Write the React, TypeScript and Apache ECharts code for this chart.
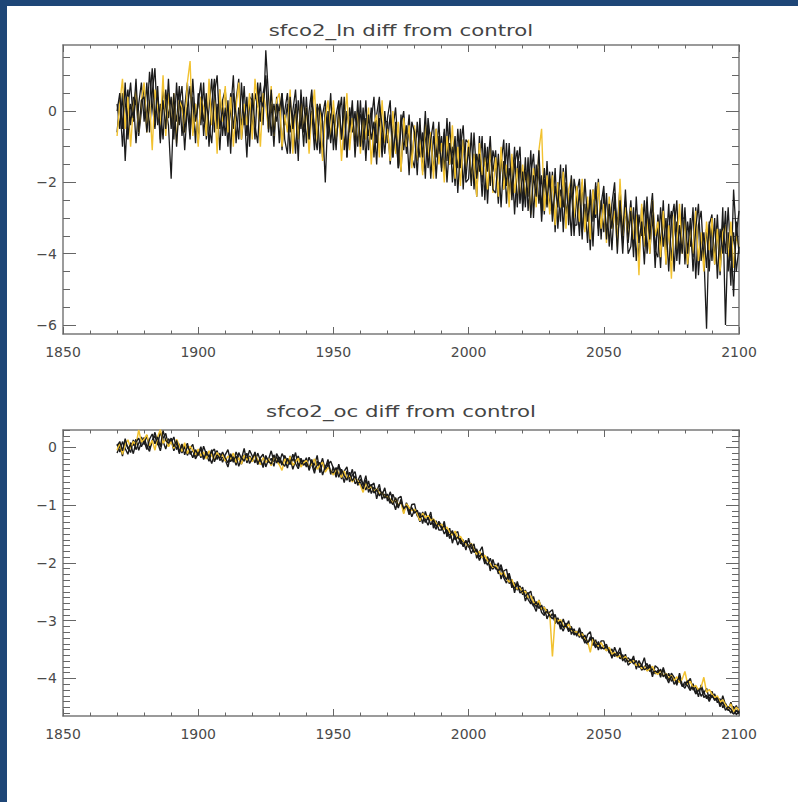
import React, { useEffect, useRef } from 'react';
import * as echarts from 'echarts';

const START_YEAR = 1870;
const TITLE_LN = 'sfco2_ln diff from control';
const TITLE_OC = 'sfco2_oc diff from control';

const X_MIN = 1850;
const X_MAX = 2100;
const X_STEP = 50;

const LN_MIN = -6.25;
const LN_MAX = 1.85;
const LN_MAJOR = [-6, -4, -2, 0];
const LN_MINOR = [-6, -5.5, -5, -4.5, -4, -3.5, -3, -2.5, -2, -1.5, -1, -0.5, 0, 0.5, 1, 1.5];

const OC_MIN = -4.65;
const OC_MAX = 0.3;
const OC_MAJOR = [-4, -3, -2, -1, 0];

// sfco2_ln, annual 1870..2100
const lnBlack1 = [
  0.2, -0.5, 0.5, -1.4, 0.1, 0.8, -0.3, 0.4, -0.7, 0.0,
  0.7, -0.3, 1.1, 0.2, -0.5, 0.4, -0.9, 0.6, 0.1, -0.4,
  -1.9, 0.2, -0.3, 0.7, -0.7, 0.1, 0.8, -0.5, 0.4, -0.9,
  0.5, -0.4, 0.8, -0.8, 0.1, 0.9, -0.6, 0.2, -1.1, 0.3,
  0.6, -0.6, 0.0, 1.0, -0.9, 0.1, -0.4, 0.7, -0.7, 0.3,
  -0.5, 0.5, 0.1, 0.8, -0.4, 1.7, 0.4, -0.7, 0.2, -0.3,
  0.2, -1.1, 0.0, 0.5, -0.6, -0.1, -1.2, 0.3, -0.5, 0.4,
  -0.9, 0.0, 0.6, -0.6, 0.1, -1.2, -0.1, 0.3, -0.8, -0.1,
  0.1, -0.8, -0.2, 0.4, -1.1, 0.0, -0.6, 0.3, -1.3, -0.1,
  -0.1, -0.8, 0.3, -1.1, -0.3, 0.4, -0.9, -0.2, -1.3, 0.0,
  -0.9, -0.1, -1.3, -0.3, -1.6, -0.4, 0.0, -1.2, -0.5, -1.4,
  -0.5, -1.4, -0.2, -1.7, -0.8, -0.4, -1.9, -0.7, -1.3, -0.3,
  -1.7, -0.6, -1.4, -0.3, -2.0, -0.9, -1.6, -0.5, -2.2, -0.8,
  -0.9, -1.8, -1.3, -2.4, -0.7, -2.0, -1.1, -2.6, -1.2, -1.7,
  -1.1, -2.4, -1.5, -0.8, -2.6, -1.6, -2.2, -1.0, -2.7, -1.4,
  -2.6, -1.3, -2.8, -1.8, -1.2, -2.5, -1.6, -3.1, -1.9, -2.7,
  -1.9, -2.9, -1.6, -3.3, -2.2, -2.7, -1.5, -3.2, -2.1, -3.5,
  -2.3, -1.9, -3.4, -2.6, -3.7, -2.2, -3.1, -2.0, -3.5, -2.5,
  -3.4, -2.3, -3.8, -2.6, -2.0, -3.6, -2.8, -4.0, -2.5, -3.3,
  -2.5, -3.8, -3.0, -4.2, -2.7, -3.5, -2.4, -4.0, -2.9, -4.4,
  -2.9, -3.8, -2.5, -4.3, -3.3, -2.8, -4.5, -3.1, -4.0, -2.6,
  -4.3, -3.1, -3.8, -2.7, -4.7, -3.2, -2.8, -4.2, -3.3, -4.5,
  -3.1, -4.2, -2.9, -4.4, -2.7, -6.0, -3.4, -4.9, -2.2, -3.5,
  -2.8,
];

const lnBlack2 = [
  -0.6, 0.3, -1.0, 0.1, 0.6, -0.4, 0.4, -0.9, 0.2, 0.8,
  -0.3, 0.8, -0.6, 0.5, 1.2, -0.4, 0.2, -0.8, 0.6, -0.2,
  0.4, -0.8, 0.8, -0.4, 0.3, -1.1, 0.1, 0.7, -0.6, 0.2,
  -0.9, 0.4, -0.3, 0.5, -1.0, 0.2, 0.9, -0.5, 0.6, -0.7,
  0.1, -1.0, 0.5, -0.5, 0.3, 0.9, -0.8, 0.0, -1.3, 0.4,
  0.3, -0.8, 0.8, -0.3, 0.5, 0.9, -0.6, 0.2, -1.0, 0.4,
  -0.9, 0.5, -0.4, 0.2, -1.2, 0.0, 0.6, -0.7, 0.1, -1.0,
  0.4, -0.8, 0.0, -1.1, 0.2, -0.1, -1.3, 0.1, -0.6, 0.5,
  -1.1, -0.1, 0.3, -0.8, 0.0, -1.3, 0.1, -0.6, 0.0, -1.0,
  0.3, -1.1, -0.2, -0.7, 0.1, -1.3, -0.1, 0.4, -1.0, -0.3,
  -0.3, -1.5, -0.5, 0.1, -1.1, -1.7, -0.2, -1.0, -0.1, -1.3,
  -1.6, -0.3, -1.3, -0.6, -1.9, -0.2, -0.9, -1.7, -0.5, -1.2,
  -0.7, -1.7, -0.2, -1.5, -1.0, -2.1, -0.5, -1.6, -0.8, -2.0,
  -1.9, -0.6, -2.2, -1.2, -1.7, -0.7, -2.5, -1.0, -2.1, -1.1,
  -1.5, -2.6, -1.2, -2.2, -0.9, -2.4, -1.3, -2.9, -1.6, -1.0,
  -2.8, -1.7, -2.4, -1.1, -3.0, -1.5, -2.6, -1.8, -2.9, -1.4,
  -2.8, -1.7, -3.4, -2.0, -3.1, -1.6, -2.9, -2.3, -3.5, -1.9,
  -2.4, -3.5, -2.0, -3.3, -2.5, -3.9, -2.2, -3.0, -1.9, -3.6,
  -2.3, -3.4, -2.7, -3.9, -2.5, -3.2, -2.1, -3.7, -2.6, -4.0,
  -3.8, -2.7, -4.2, -2.9, -3.5, -2.5, -4.0, -3.0, -2.3, -3.9,
  -3.2, -4.4, -2.8, -3.9, -2.6, -4.2, -3.3, -2.5, -4.3, -3.0,
  -3.0, -4.4, -3.4, -4.1, -2.7, -4.6, -3.5, -4.0, -6.1, -3.2,
  -2.9, -4.3, -3.3, -4.6, -3.1, -4.0, -2.7, -4.2, -3.4, -4.5,
  -3.8,
];

const lnBlack3 = [
  0.0, 0.5, -0.5, 0.8, -0.8, 0.2, -0.2, 0.9, -0.6, 0.3,
  0.4, -0.6, 0.2, 1.2, -0.3, 0.7, -0.8, 0.3, -0.5, 0.9,
  -0.5, 0.5, -1.0, 0.2, 0.7, -0.6, 0.1, -0.8, 0.9, -0.3,
  0.2, 0.8, -0.7, 0.3, -0.4, -0.9, 0.5, 1.0, -0.5, 0.1,
  -0.7, 0.3, -1.2, 0.5, -0.1, -0.8, 0.8, -0.4, 0.4, -1.0,
  0.5, -0.4, -0.9, 0.4, 0.1, 1.0, -0.5, 0.6, -0.7, 0.2,
  0.0, 0.5, -0.8, -1.2, 0.4, -0.5, 0.2, -1.4, 0.6, -0.6,
  0.1, -0.8, 0.4, -0.6, -1.1, 0.2, -0.3, -2.0, 0.0, -0.9,
  -0.1, -1.1, 0.2, -0.8, 0.4, -1.3, -0.3, 0.1, -1.0, 0.3,
  -1.0, 0.1, -1.4, -0.1, -0.8, -0.3, -1.5, 0.2, -0.4, -1.2,
  -0.2, 0.3, -1.3, -0.5, -1.6, -0.1, -1.1, -0.4, -1.8, -0.3,
  -0.6, -1.8, -0.4, -1.3, 0.0, -1.6, -0.8, -0.3, -1.9, -0.7,
  -1.6, -0.5, -2.0, -0.9, -1.5, -0.7, -2.3, -1.0, -0.4, -1.9,
  -1.0, -2.1, -0.6, -1.9, -1.2, -2.4, -0.9, -1.7, -0.7, -2.2,
  -2.3, -1.2, -2.7, -1.4, -2.1, -0.9, -2.5, -1.5, -1.1, -2.6,
  -1.7, -2.7, -1.3, -3.0, -1.8, -2.4, -1.1, -2.8, -1.6, -2.5,
  -1.7, -3.1, -2.1, -2.7, -1.5, -3.4, -2.0, -2.9, -1.8, -3.2,
  -3.2, -2.2, -3.6, -1.9, -3.1, -2.4, -3.8, -2.1, -3.3, -2.6,
  -2.1, -3.6, -2.6, -3.3, -2.3, -4.0, -2.5, -3.5, -2.2, -3.7,
  -2.8, -4.1, -2.4, -3.7, -3.1, -4.3, -2.7, -3.6, -2.5, -3.9,
  -4.1, -2.7, -3.8, -3.0, -4.5, -3.1, -2.6, -4.2, -3.2, -4.0,
  -2.7, -4.0, -3.0, -4.5, -3.3, -2.6, -4.2, -3.4, -4.4, -3.1,
  -4.2, -3.0, -4.7, -3.3, -4.0, -2.8, -4.5, -3.5, -5.2, -3.1,
  -4.0,
];

const lnYellow = [
  -0.7, 0.2, 0.9, -0.5, 0.4, -1.0, 0.1, 0.6, -0.6, 0.3,
  0.8, -0.6, 0.3, -1.1, 0.6, 0.1, -0.4, 1.0, -0.7, 0.5,
  -0.4, 0.5, -0.9, 0.3, 0.1, -0.6, 0.8, 1.4, -0.7, 0.2,
  -1.0, 0.4, 0.1, -0.7, 0.9, -0.4, 0.3, -1.2, 0.6, -0.3,
  0.7, -0.6, 0.4, -1.0, 0.1, 0.8, -0.8, 0.2, -0.4, 0.5,
  -0.8, 0.9, 0.2, -1.0, 0.5, 0.1, -0.5, 0.7, -0.7, 0.3,
  0.5, -1.0, -0.1, -0.6, 0.6, -1.2, 0.1, -0.8, 0.3, -0.5,
  0.1, -1.2, -0.1, 0.6, -0.9, 0.2, -1.4, -0.2, 0.3, -0.8,
  0.3, -0.8, 0.0, -1.4, -0.3, 0.5, -1.1, -0.2, -0.9, 0.1,
  -1.2, -0.2, -0.8, 0.1, -1.5, -0.4, -0.1, -1.3, 0.3, -0.9,
  -0.5, -1.4, 0.0, -1.2, -0.3, -1.7, -0.2, -1.0, -0.4, -1.6,
  -0.4, -1.4, -0.8, -1.8, -0.3, -1.3, -0.6, -1.9, -0.5, -1.5,
  -0.9, -2.0, -0.7, -1.5, -0.4, -1.9, -1.0, -2.1, -0.8, -1.6,
  -0.8, -2.0, -1.2, -2.4, -0.9, -1.8, -1.3, -2.2, -1.0, -2.3,
  -1.3, -2.4, -1.0, -2.2, -1.5, -2.7, -1.2, -2.3, -1.6, -2.5,
  -1.5, -2.4, -1.7, -2.9, -1.6, -2.7, -1.1, -0.5, -2.8, -1.8,
  -2.9, -1.8, -3.2, -2.0, -2.7, -1.7, -3.3, -2.2, -1.9, -3.0,
  -2.1, -3.1, -1.9, -3.4, -2.4, -3.6, -2.2, -2.9, -2.0, -3.3,
  -2.6, -3.7, -2.4, -3.3, -2.8, -3.8, -1.9, -3.5, -2.7, -3.6,
  -2.7, -3.6, -2.9, -4.6, -2.6, -3.8, -3.0, -4.0, -2.5, -3.5,
  -3.1, -4.1, -2.8, -4.3, -3.2, -4.7, -2.9, -3.9, -2.6, -4.0,
  -3.0, -4.3, -3.3, -4.0, -2.8, -4.2, -3.4, -4.5, -3.1, -3.9,
  -3.0, -4.3, -3.3, -4.5, -3.4, -3.2, -4.1, -3.1, -4.4, -3.5,
  -3.8,
];

// sfco2_oc, annual 1870..2100
const ocBlack1 = [
  0.06, -0.08, 0.10, -0.02, -0.12, 0.08, 0.03, 0.14, -0.05, 0.09,
  0.17, 0.02, -0.07, 0.12, 0.20, 0.04, 0.27, 0.10, -0.03, 0.15,
  0.08, 0.18, -0.04, 0.06, -0.10, 0.03, -0.14, -0.02, 0.05, -0.16,
  -0.05, -0.18, 0.02, -0.12, -0.24, -0.08, -0.03, -0.21, -0.10, -0.26,
  -0.13, -0.04, -0.25, -0.16, -0.31, -0.09, -0.20, -0.02, -0.27, -0.15,
  -0.22, -0.08, -0.30, -0.18, -0.12, -0.34, -0.21, -0.06, -0.25, -0.16,
  -0.28, -0.11, -0.20, -0.36, -0.15, -0.24, -0.09, -0.33, -0.19, -0.29,
  -0.18, -0.40, -0.25, -0.31, -0.14, -0.44, -0.27, -0.36, -0.21, -0.47,
  -0.34, -0.52, -0.32, -0.43, -0.61, -0.41, -0.54, -0.38, -0.63, -0.58,
  -0.48, -0.66, -0.49, -0.78, -0.66, -0.62, -0.89, -0.71, -0.83, -0.70,
  -0.93, -0.77, -0.92, -1.08, -0.88, -0.85, -1.10, -0.99, -1.17, -0.99,
  -0.98, -1.19, -1.13, -1.32, -1.11, -1.26, -1.12, -1.40, -1.27, -1.43,
  -1.43, -1.28, -1.55, -1.40, -1.66, -1.49, -1.46, -1.67, -1.60, -1.78,
  -1.57, -1.76, -1.67, -1.92, -1.81, -1.72, -1.99, -1.89, -2.14, -1.94,
  -2.11, -2.00, -2.28, -2.14, -2.11, -2.36, -2.29, -2.52, -2.32, -2.48,
  -2.42, -2.66, -2.54, -2.49, -2.73, -2.84, -2.64, -2.81, -2.76, -2.97,
  -2.85, -2.81, -3.05, -2.97, -3.15, -2.97, -3.12, -3.00, -3.24, -3.14,
  -3.27, -3.12, -3.27, -3.39, -3.24, -3.19, -3.43, -3.33, -3.51, -3.35,
  -3.35, -3.52, -3.47, -3.65, -3.46, -3.58, -3.47, -3.70, -3.58, -3.77,
  -3.72, -3.61, -3.84, -3.69, -3.78, -3.64, -3.87, -3.79, -3.97, -3.78,
  -3.82, -3.98, -3.81, -3.97, -4.08, -3.91, -3.98, -4.12, -3.91, -4.11,
  -4.17, -4.06, -4.00, -4.20, -4.14, -4.32, -4.11, -4.25, -4.17, -4.37,
  -4.22, -4.37, -4.32, -4.49, -4.30, -4.46, -4.56, -4.41, -4.58, -4.47,
  -4.60,
];

const ocBlack2 = [
  -0.10, 0.04, -0.15, 0.08, 0.00, -0.09, 0.13, -0.04, 0.07, 0.18,
  0.05, 0.21, -0.02, 0.10, 0.26, 0.08, -0.06, 0.16, 0.24, 0.02,
  0.13, -0.06, 0.09, -0.11, 0.04, -0.03, 0.07, -0.12, -0.05, -0.20,
  -0.11, 0.01, -0.19, -0.07, -0.15, -0.28, -0.12, -0.06, -0.23, -0.17,
  -0.22, -0.34, -0.14, -0.26, -0.08, -0.19, -0.29, -0.13, -0.21, -0.05,
  -0.15, -0.27, -0.10, -0.23, -0.32, -0.14, -0.26, -0.19, -0.33, -0.11,
  -0.20, -0.31, -0.14, -0.26, -0.18, -0.38, -0.23, -0.15, -0.30, -0.22,
  -0.34, -0.17, -0.29, -0.45, -0.24, -0.33, -0.19, -0.41, -0.30, -0.24,
  -0.36, -0.47, -0.29, -0.55, -0.41, -0.34, -0.60, -0.48, -0.42, -0.66,
  -0.55, -0.63, -0.74, -0.58, -0.80, -0.69, -0.76, -0.64, -0.90, -0.81,
  -0.86, -0.97, -0.81, -0.94, -1.05, -0.90, -1.13, -0.96, -1.06, -1.20,
  -1.08, -1.15, -1.29, -1.12, -1.24, -1.35, -1.19, -1.33, -1.42, -1.28,
  -1.36, -1.50, -1.42, -1.58, -1.47, -1.53, -1.69, -1.57, -1.72, -1.64,
  -1.70, -1.84, -1.73, -1.81, -1.96, -1.85, -2.02, -1.90, -2.06, -2.11,
  -2.02, -2.19, -2.08, -2.26, -2.35, -2.21, -2.43, -2.34, -2.47, -2.40,
  -2.55, -2.47, -2.63, -2.71, -2.58, -2.77, -2.69, -2.86, -2.91, -2.80,
  -2.94, -2.88, -3.03, -2.95, -3.09, -3.18, -3.04, -3.16, -3.10, -3.25,
  -3.18, -3.29, -3.20, -3.34, -3.41, -3.28, -3.38, -3.47, -3.36, -3.49,
  -3.44, -3.41, -3.56, -3.49, -3.62, -3.55, -3.66, -3.59, -3.72, -3.64,
  -3.70, -3.66, -3.79, -3.73, -3.86, -3.80, -3.74, -3.88, -3.83, -3.92,
  -3.86, -3.93, -3.85, -4.00, -3.91, -4.05, -3.99, -4.09, -4.02, -4.14,
  -4.06, -4.13, -4.21, -4.09, -4.25, -4.18, -4.31, -4.23, -4.35, -4.28,
  -4.33, -4.27, -4.42, -4.35, -4.51, -4.43, -4.52, -4.60, -4.48, -4.63,
  -4.57,
];

const ocBlack3 = [
  0.02, 0.10, -0.06, 0.15, -0.03, 0.05, -0.11, 0.09, 0.16, 0.01,
  0.11, -0.04, 0.14, 0.23, 0.06, 0.18, 0.01, 0.29, 0.12, 0.07,
  0.16, 0.01, 0.12, -0.08, 0.06, -0.13, 0.02, -0.07, -0.18, -0.04,
  -0.14, -0.02, -0.21, -0.09, -0.17, -0.04, -0.25, -0.13, -0.19, -0.08,
  -0.18, -0.27, -0.11, -0.23, -0.15, -0.33, -0.18, -0.24, -0.10, -0.28,
  -0.19, -0.11, -0.28, -0.20, -0.35, -0.16, -0.24, -0.29, -0.13, -0.27,
  -0.17, -0.27, -0.33, -0.19, -0.30, -0.12, -0.28, -0.37, -0.22, -0.31,
  -0.26, -0.36, -0.21, -0.39, -0.31, -0.26, -0.48, -0.33, -0.27, -0.42,
  -0.44, -0.35, -0.52, -0.38, -0.49, -0.57, -0.43, -0.58, -0.50, -0.62,
  -0.60, -0.72, -0.57, -0.70, -0.64, -0.79, -0.73, -0.84, -0.77, -0.88,
  -0.81, -0.92, -0.99, -0.87, -1.02, -0.94, -1.06, -1.01, -1.12, -1.04,
  -1.14, -1.09, -1.22, -1.18, -1.30, -1.21, -1.34, -1.25, -1.37, -1.31,
  -1.41, -1.35, -1.49, -1.52, -1.44, -1.60, -1.55, -1.63, -1.70, -1.61,
  -1.73, -1.67, -1.82, -1.76, -1.90, -1.83, -1.95, -2.04, -1.92, -2.06,
  -2.08, -2.14, -2.03, -2.21, -2.29, -2.18, -2.37, -2.44, -2.36, -2.52,
  -2.48, -2.58, -2.51, -2.66, -2.75, -2.67, -2.79, -2.73, -2.88, -2.84,
  -2.91, -2.97, -2.89, -3.06, -3.01, -3.12, -3.07, -3.19, -3.13, -3.21,
  -3.24, -3.17, -3.31, -3.25, -3.38, -3.33, -3.29, -3.44, -3.39, -3.46,
  -3.49, -3.44, -3.53, -3.63, -3.57, -3.61, -3.54, -3.68, -3.65, -3.71,
  -3.67, -3.75, -3.69, -3.81, -3.77, -3.85, -3.82, -3.76, -3.91, -3.87,
  -3.90, -3.84, -3.97, -3.92, -4.03, -3.96, -4.10, -4.04, -3.98, -4.13,
  -4.11, -4.04, -4.18, -4.15, -4.27, -4.21, -4.16, -4.33, -4.29, -4.40,
  -4.29, -4.38, -4.34, -4.45, -4.41, -4.55, -4.49, -4.53, -4.62, -4.55,
  -4.61,
];

const ocYellow = [
  -0.05, 0.08, -0.12, 0.05, 0.13, -0.02, 0.10, 0.04, 0.30, 0.09,
  0.14, 0.22, 0.03, 0.12, -0.05, 0.18, 0.31, 0.07, 0.15, 0.01,
  0.10, -0.02, 0.14, 0.03, -0.07, 0.08, -0.11, 0.02, -0.05, -0.13,
  -0.03, -0.15, -0.08, -0.20, -0.06, -0.14, -0.22, -0.09, -0.17, -0.12,
  -0.24, -0.15, -0.20, -0.10, -0.26, -0.18, -0.29, -0.14, -0.22, -0.17,
  -0.25, -0.13, -0.21, -0.30, -0.18, -0.26, -0.20, -0.32, -0.15, -0.24,
  -0.30, -0.40, -0.20, -0.28, -0.16, -0.31, -0.25, -0.19, -0.34, -0.27,
  -0.23, -0.35, -0.29, -0.20, -0.38, -0.31, -0.26, -0.43, -0.35, -0.40,
  -0.48, -0.37, -0.45, -0.52, -0.41, -0.55, -0.47, -0.60, -0.52, -0.58,
  -0.66, -0.78, -0.62, -0.71, -0.68, -0.77, -0.72, -0.81, -0.78, -0.86,
  -0.84, -0.90, -0.97, -0.88, -1.00, -0.95, -1.15, -0.98, -1.04, -1.10,
  -1.07, -1.15, -1.27, -1.14, -1.22, -1.18, -1.27, -1.24, -1.31, -1.36,
  -1.33, -1.42, -1.38, -1.47, -1.52, -1.45, -1.58, -1.54, -1.62, -1.67,
  -1.72, -1.66, -1.78, -1.85, -1.80, -1.91, -1.87, -1.96, -2.01, -2.08,
  -2.04, -2.12, -2.20, -2.16, -2.27, -2.33, -2.29, -2.40, -2.45, -2.43,
  -2.52, -2.49, -2.60, -2.57, -2.68, -2.72, -2.65, -2.80, -2.77, -2.86,
  -2.88, -3.62, -2.95, -3.01, -2.98, -3.08, -3.12, -3.06, -3.16, -3.20,
  -3.19, -3.26, -3.23, -3.30, -3.35, -3.55, -3.31, -3.40, -3.44, -3.38,
  -3.47, -3.52, -3.46, -3.58, -3.55, -3.63, -3.60, -3.67, -3.62, -3.70,
  -3.72, -3.69, -3.78, -3.75, -3.83, -3.80, -3.87, -3.84, -3.79, -3.90,
  -3.93, -3.86, -3.96, -3.91, -4.00, -3.95, -4.04, -3.97, -4.07, -4.01,
  -3.88, -4.10, -4.05, -4.16, -4.12, -4.20, -4.15, -3.98, -4.24, -4.19,
  -4.27, -4.33, -4.30, -4.41, -4.37, -4.46, -4.52, -4.44, -4.58, -4.50,
  -4.55,
];

const BLUE = '#1e4677';
const BLACK = '#1b1b1b';
const YELLOW = '#f2c230';
const AXIS_COLOR = '#7a7a7a';
const TEXT_COLOR = '#4a4a4a';
const FONT = 'DejaVu Sans';

const fmtX = (v: number) => String(v);
const fmtY = (v: number) => (v === 0 ? '0' : v < 0 ? '\u2212' + String(Math.abs(v)) : String(v));

function xAxes(gridIndex: number) {
  const base = {
    type: 'value',
    gridIndex,
    min: X_MIN,
    max: X_MAX,
    interval: X_STEP,
    splitLine: { show: false },
    axisLine: { show: true, onZero: false, lineStyle: { color: AXIS_COLOR, width: 1.5 } },
    axisTick: { show: true, inside: true, length: 7, lineStyle: { color: '#666', width: 1 } },
    minorTick: { show: true, splitNumber: 5, length: 3.5, lineStyle: { color: '#666', width: 1 } },
  };
  return [
    {
      ...base,
      position: 'bottom',
      axisLabel: {
        show: true,
        formatter: fmtX,
        margin: 11,
        fontSize: 14,
        fontFamily: FONT,
        color: TEXT_COLOR,
        showMinLabel: true,
        showMaxLabel: true,
      },
    },
    { ...base, position: 'top', axisLabel: { show: false } },
  ];
}

function yAxes(gridIndex: number, min: number, max: number, major: number[], minor: number[]) {
  const base = {
    type: 'value',
    gridIndex,
    min,
    max,
    splitLine: { show: false },
    minorTick: { show: false },
  };
  const line = { show: true, onZero: false, lineStyle: { color: AXIS_COLOR, width: 1.5 } };
  const noLine = { show: false, onZero: false };
  const majorTick = { show: true, inside: true, length: 13, customValues: major, lineStyle: { color: '#666', width: 1 } };
  const minorTick = { show: true, inside: true, length: 7, customValues: minor, lineStyle: { color: '#666', width: 1 } };
  return [
    {
      ...base,
      position: 'left',
      axisLine: line,
      axisTick: majorTick,
      axisLabel: {
        show: true,
        customValues: major,
        formatter: fmtY,
        margin: 6,
        fontSize: 14,
        fontFamily: FONT,
        color: TEXT_COLOR,
      },
    },
    { ...base, position: 'left', axisLine: noLine, axisTick: minorTick, axisLabel: { show: false } },
    { ...base, position: 'right', axisLine: line, axisTick: majorTick, axisLabel: { show: false } },
    { ...base, position: 'right', axisLine: noLine, axisTick: minorTick, axisLabel: { show: false } },
  ];
}

function lineSeries(name: string, values: number[], color: string, xAxisIndex: number, yAxisIndex: number, width: number, z: number) {
  return {
    name,
    type: 'line',
    xAxisIndex,
    yAxisIndex,
    data: values.map((v, i) => [START_YEAR + i, v]),
    showSymbol: false,
    symbol: 'none',
    lineStyle: { color, width },
    z,
  };
}

export default function App() {
  const ref = useRef<HTMLDivElement>(null);

  useEffect(() => {
    if (!ref.current) return;
    const chart = echarts.init(ref.current, null, { renderer: 'svg' });

    const ocMinor: number[] = [];
    for (let i = 0; i < 50; i++) ocMinor.push(Math.round((-4.6 + i * 0.1) * 10) / 10);

    const option = {
      animation: false,
      backgroundColor: 'transparent',
      textStyle: { fontFamily: FONT },
      grid: [
        { left: 63, top: 45, width: 676, height: 289, containLabel: false },
        { left: 63, top: 430, width: 676, height: 286, containLabel: false },
      ],
      xAxis: [...xAxes(0), ...xAxes(1)],
      yAxis: [
        ...yAxes(0, LN_MIN, LN_MAX, LN_MAJOR, LN_MINOR),
        ...yAxes(1, OC_MIN, OC_MAX, OC_MAJOR, ocMinor),
      ],
      graphic: [
        {
          type: 'text',
          x: 401,
          y: 31,
          scaleX: 1.42,
          style: {
            text: TITLE_LN,
            fontSize: 15,
            fontFamily: FONT,
            fill: '#444',
            align: 'center',
            verticalAlign: 'middle',
            textAlign: 'center',
            textVerticalAlign: 'middle',
          },
        },
        {
          type: 'text',
          x: 401,
          y: 412,
          scaleX: 1.42,
          style: {
            text: TITLE_OC,
            fontSize: 15,
            fontFamily: FONT,
            fill: '#444',
            align: 'center',
            verticalAlign: 'middle',
            textAlign: 'center',
            textVerticalAlign: 'middle',
          },
        },
      ],
      series: [
        lineSeries('ln run 1', lnBlack1, BLACK, 0, 0, 1.3, 2),
        lineSeries('ln run 2', lnBlack2, BLACK, 0, 0, 1.3, 3),
        lineSeries('ln run 4', lnYellow, YELLOW, 0, 0, 1.4, 4),
        lineSeries('ln run 3', lnBlack3, BLACK, 0, 0, 1.3, 5),
        lineSeries('oc run 1', ocBlack1, BLACK, 2, 4, 1.4, 2),
        lineSeries('oc run 2', ocBlack2, BLACK, 2, 4, 1.4, 3),
        lineSeries('oc run 4', ocYellow, YELLOW, 2, 4, 1.5, 4),
        lineSeries('oc run 3', ocBlack3, BLACK, 2, 4, 1.4, 5),
      ],
    };

    chart.setOption(option as any);
    return () => chart.dispose();
  }, []);

  return (
    <div style={{ position: 'absolute', left: 0, top: 0, width: 798, height: 802, background: BLUE, overflow: 'hidden' }}>
      <div style={{ position: 'absolute', left: 7, top: 6, right: 0, bottom: 0, background: '#ffffff' }} />
      <div ref={ref} style={{ position: 'absolute', left: 0, top: 0, width: 798, height: 802 }} />
    </div>
  );
}
